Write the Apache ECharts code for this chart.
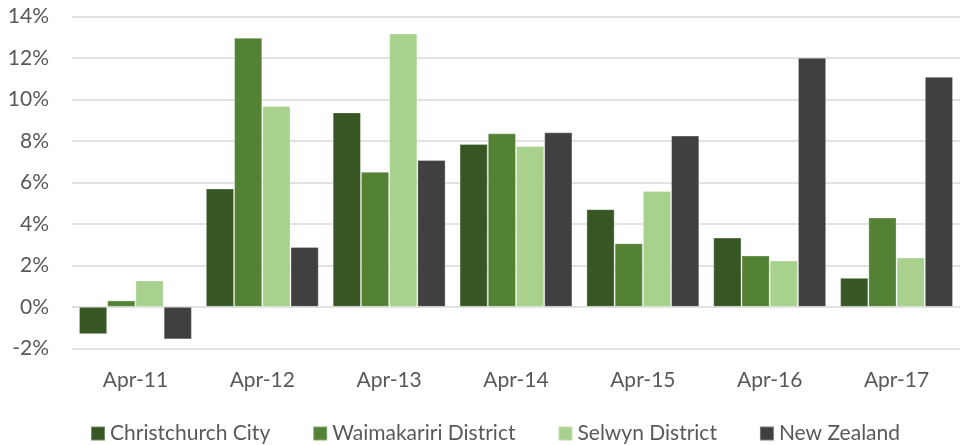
<!DOCTYPE html>
<html>
<head>
<meta charset="utf-8">
<script src="https://cdn.jsdelivr.net/npm/echarts@6/dist/echarts.min.js"></script>
<style>
  html, body { margin: 0; padding: 0; background: #fff; }
  #chart { width: 960px; height: 445px; }
</style>
</head>
<body>
<div id="chart"></div>
<script>
// annual change, percent
const periods = ['Apr-11', 'Apr-12', 'Apr-13', 'Apr-14', 'Apr-15', 'Apr-16', 'Apr-17']
const christchurch = [-1.32, 5.71, 9.38, 7.86, 4.71, 3.34, 1.40]
const waimakariri = [0.31, 12.98, 6.52, 8.37, 3.07, 2.48, 4.31]
const selwyn = [1.27, 9.69, 13.19, 7.76, 5.59, 2.24, 2.38]
const newZealand = [-1.57, 2.89, 7.08, 8.42, 8.26, 12.02, 11.10]

const font = 'Lato, "Open Sans", sans-serif'
const textColor = '#595959'

const chart = echarts.init(document.getElementById('chart'))

function bar(name, data, color) {
  return {
    name: name,
    type: 'bar',
    data: data,
    barGap: '0%',
    barCategoryGap: '11%',
    itemStyle: {
      color: color,
      borderColor: 'rgba(255,255,255,0.3)',
      borderWidth: 1
    }
  }
}

chart.setOption({
  animation: false,
  textStyle: { fontFamily: font },
  grid: { left: 72, right: -11, top: 16.6, bottom: 96.7 },
  legend: {
    top: 418,
    left: 85,
    itemWidth: 14,
    itemHeight: 14,
    itemGap: 42,
    icon: 'rect',
    textStyle: { color: textColor, fontSize: 21, fontFamily: font }
  },
  xAxis: {
    type: 'category',
    data: periods,
    position: 'bottom',
    axisLine: { show: false, onZero: false },
    axisTick: { show: false },
    axisLabel: { color: textColor, fontSize: 21, margin: 21 }
  },
  yAxis: {
    type: 'value',
    min: -2,
    max: 14,
    interval: 2,
    axisLine: { show: false },
    axisTick: { show: false },
    axisLabel: { color: textColor, fontSize: 21, margin: 23, formatter: '{value}%' },
    splitLine: { lineStyle: { color: '#d9d9d9', width: 1.5 } }
  },
  series: [
    bar('Christchurch City', christchurch, '#375623'),
    bar('Waimakariri District', waimakariri, '#548235'),
    bar('Selwyn District', selwyn, '#a9d18e'),
    bar('New Zealand', newZealand, '#404040')
  ]
})
</script>
</body>
</html>
